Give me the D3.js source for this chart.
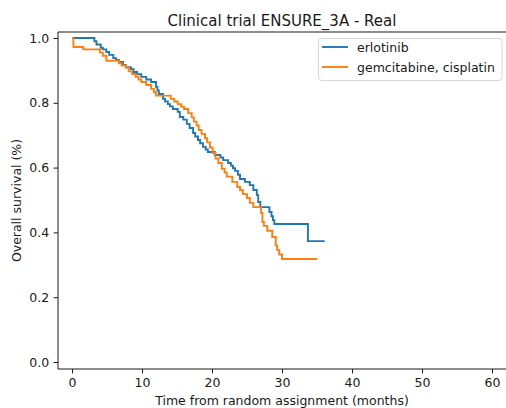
<!DOCTYPE html>
<html><head><meta charset="utf-8">
<script src="https://cdn.jsdelivr.net/npm/d3@7"></script>
<style>body{margin:0;background:#fff}svg{display:block}text{font-family:"DejaVu Sans",sans-serif}</style>
</head><body>
<svg id="c" width="506" height="408"></svg>
<script>
// Data: step points [time (months), survival after step]
const erlotinibTimes = [0,3.2,3.5,4.1,4.4,4.9,5.3,5.9,6.3,6.7,7.3,7.7,8.4,8.8,9.3,9.9,10.6,11.3,12.0,12.2,12.4,13.0,13.3,13.7,14.0,14.4,15.1,15.4,15.9,16.4,16.8,17.3,17.6,18.0,18.3,18.7,19.1,19.4,20.4,21.2,21.6,22.3,22.7,23.0,23.3,23.7,24.0,24.7,25.4,25.9,26.4,26.6,26.9,28.2,28.5,28.7,28.9,33.7,36.1];
const erlotinibSurv  = [1.0,0.99,0.98,0.97,0.965,0.957,0.948,0.938,0.932,0.926,0.917,0.91,0.904,0.895,0.888,0.88,0.872,0.864,0.849,0.838,0.827,0.812,0.804,0.796,0.789,0.781,0.772,0.756,0.748,0.735,0.722,0.707,0.696,0.685,0.675,0.664,0.656,0.648,0.639,0.631,0.623,0.614,0.606,0.598,0.59,0.578,0.565,0.556,0.546,0.531,0.515,0.494,0.478,0.463,0.45,0.438,0.426,0.373,0.373];
const gemcisTimes = [0,0.2,1.6,4.0,4.4,4.9,6.7,7.1,7.7,8.1,8.6,9.1,9.5,9.9,10.6,11.3,11.7,12.0,14.1,14.6,15.1,15.6,16.0,16.6,17.1,17.4,17.8,18.1,18.5,19.0,19.3,19.7,20.1,20.5,20.9,21.4,21.8,22.1,22.9,23.6,24.0,24.4,25.0,25.4,25.9,27.0,27.2,27.4,27.9,28.6,29.1,29.3,29.6,30.0,35.0];
const gemcisSurv  = [1.0,0.972,0.965,0.955,0.945,0.93,0.922,0.915,0.908,0.897,0.889,0.88,0.872,0.864,0.855,0.843,0.833,0.822,0.812,0.804,0.796,0.788,0.781,0.768,0.755,0.742,0.73,0.716,0.704,0.691,0.678,0.662,0.645,0.628,0.614,0.596,0.585,0.572,0.556,0.54,0.531,0.518,0.506,0.491,0.478,0.46,0.432,0.42,0.405,0.386,0.36,0.346,0.332,0.318,0.318];
const seriesNames = ["erlotinib","gemcitabine, cisplatin"];
const seriesColors = ["#1f77b4","#ff7f0e"];
const xTicks = [0,10,20,30,40,50,60];
const yTicks = [0,0.2,0.4,0.6,0.8,1.0];

const svg = d3.select("#c");
const L=58, R=507, T=32, B=369;
const x = d3.scaleLinear().domain([-2,62.14]).range([L,R]);
const y = d3.scaleLinear().domain([0,1]).range([362,38]);

const series = [
  erlotinibTimes.map((t,i)=>[t,erlotinibSurv[i]]),
  gemcisTimes.map((t,i)=>[t,gemcisSurv[i]])
];
const line = d3.line().x(d=>x(d[0])).y(d=>y(d[1])).curve(d3.curveStepAfter);
series.forEach((s,i)=>{
  svg.append("path").attr("d",line(s)).attr("fill","none")
    .attr("stroke",seriesColors[i]).attr("stroke-width",1.9);
});

// frame
const fr = svg.append("g").attr("stroke","#1a1a1a").attr("stroke-width",1).attr("fill","none");
fr.append("line").attr("x1",L).attr("x2",L).attr("y1",T).attr("y2",B);
fr.append("line").attr("x1",L).attr("x2",R).attr("y1",T).attr("y2",T);
fr.append("line").attr("x1",L).attr("x2",R).attr("y1",B).attr("y2",B);

const xa = svg.append("g").attr("transform",`translate(0,${B})`)
  .call(d3.axisBottom(x).tickValues(xTicks).tickFormat(d3.format("d")).tickSizeOuter(0).tickSize(4.4).tickPadding(4.4));
const ya = svg.append("g").attr("transform",`translate(${L},0)`)
  .call(d3.axisLeft(y).tickValues(yTicks).tickFormat(d3.format(".1f")).tickSizeOuter(0).tickSize(4.4).tickPadding(4.4));
[xa,ya].forEach(a=>{
  a.select(".domain").remove();
  a.selectAll("text").attr("font-size",12.5).attr("fill","#1a1a1a").attr("font-family","DejaVu Sans");
  a.selectAll("line").attr("stroke","#1a1a1a").attr("stroke-width",1);
});

svg.append("text").attr("x",(L+506)/2).attr("y",26).attr("text-anchor","middle")
  .attr("font-size",15).attr("fill","#1a1a1a").text("Clinical trial ENSURE_3A - Real");
svg.append("text").attr("x",(L+506)/2).attr("y",405).attr("text-anchor","middle")
  .attr("font-size",12.5).attr("fill","#1a1a1a").text("Time from random assignment (months)");
svg.append("text").attr("transform",`translate(21,${(T+B)/2}) rotate(-90)`).attr("text-anchor","middle")
  .attr("font-size",12.5).attr("fill","#1a1a1a").text("Overall survival (%)");

// legend
const lg = svg.append("g");
lg.append("rect").attr("x",318.5).attr("y",38.5).attr("width",183.5).attr("height",42).attr("rx",3)
  .attr("fill","#fff").attr("fill-opacity",0.8).attr("stroke","#d6d6d6").attr("stroke-width",1);
seriesNames.forEach((n,i)=>{
  const yy = 47 + i*20;
  lg.append("line").attr("x1",322).attr("x2",348).attr("y1",yy).attr("y2",yy)
    .attr("stroke",seriesColors[i]).attr("stroke-width",1.9);
  lg.append("text").attr("x",357).attr("y",yy+4.5).attr("font-size",12.5).attr("fill","#1a1a1a").text(n);
});
</script>
</body></html>
